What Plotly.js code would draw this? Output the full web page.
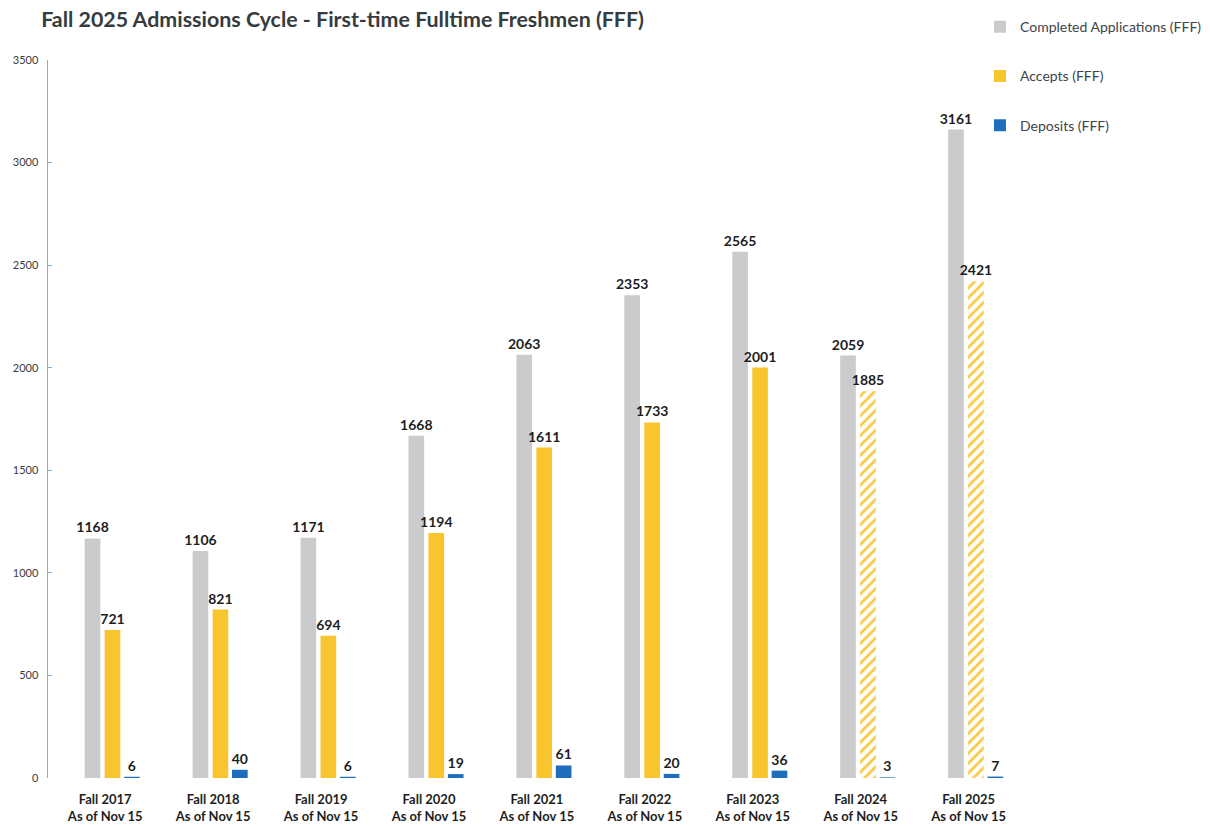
<!DOCTYPE html>
<html>
<head>
<meta charset="utf-8">
<script src="https://cdn.plot.ly/plotly-3.0.1.min.js"></script>
<style>html,body{margin:0;padding:0;background:#fff;}#chart{width:1210px;height:826px;}</style>
</head>
<body>
<div id="chart"></div>
<script>
const categories = ["Fall 2017<br>As of Nov 15","Fall 2018<br>As of Nov 15","Fall 2019<br>As of Nov 15","Fall 2020<br>As of Nov 15","Fall 2021<br>As of Nov 15","Fall 2022<br>As of Nov 15","Fall 2023<br>As of Nov 15","Fall 2024<br>As of Nov 15","Fall 2025<br>As of Nov 15"];
const completedApplications = [1168, 1106, 1171, 1668, 2063, 2353, 2565, 2059, 3161];
const accepts = [721, 821, 694, 1194, 1611, 1733, 2001, 1885, 2421];
const deposits = [6, 40, 6, 19, 61, 20, 36, 3, 7];
const acceptsHatch = ["", "", "", "", "", "", "", "/", "/"];
const yTicks = [0, 500, 1000, 1500, 2000, 2500, 3000, 3500];

const FONT = "Lato, 'Open Sans', sans-serif";
const labelFont = {family: FONT, size: 14, color: "#1e1e1e", weight: "bold"};
const BW = 0.145;
function barTrace(name, vals, color, group, off, extra) {
  return Object.assign({
    type: "bar", name: name, x: categories, y: vals,
    marker: {color: color}, width: BW, offset: off,
    text: vals.map(String), textposition: "outside", cliponaxis: false,
    constraintext: "none", textfont: labelFont,
    legendgroup: group, hoverinfo: "x+y+name"
  }, extra || {});
}
const traces = [
  barTrace("Completed Applications (FFF)", completedApplications, "#cbcbce", "a", -0.19),
  barTrace("Accepts (FFF)", accepts, "#f9c52f", "b", -0.005, {
    marker: {color: "#f9c52f", pattern: {shape: acceptsHatch, fgcolor: "#f9c840", bgcolor: "#ffffff", size: 7, solidity: 0.38, fillmode: "replace"}}
  }),
  barTrace("Deposits (FFF)", deposits, "#1f6dbd", "c", 0.175)
];
const layout = {
  width: 1210, height: 826,
  paper_bgcolor: "#ffffff", plot_bgcolor: "#ffffff",
  margin: {l: 48, r: 182, t: 60, b: 48, autoexpand: false},
  font: {family: FONT, color: "#333"},
  title: {text: "<b>Fall 2025 Admissions Cycle - First-time Fulltime Freshmen (FFF)</b>",
          font: {family: FONT, size: 21.4, color: "#363b40"},
          x: 0.034, xref: "container", xanchor: "left", y: 0.985, yref: "container", yanchor: "top"},
  barmode: "group",
  xaxis: {type: "category", range: [-0.53, 8.55], showline: false, showgrid: false, zeroline: false,
          ticks: "", ticklabelstandoff: 12,
          tickfont: {family: FONT, size: 13, color: "#1e1e1e", weight: "bold"}},
  yaxis: {range: [0, 3500], tickvals: yTicks, showgrid: false, zeroline: false,
          showline: true, linecolor: "#7fb2d8", linewidth: 1.5,
          ticks: "inside", ticklen: 4, tickcolor: "#7fb2d8",
          tickfont: {family: FONT, size: 11, color: "#3a3a3a"}, ticklabelstandoff: 6},
  showlegend: true,
  legend: {x: 0.951, xanchor: "left", y: 1.068, yanchor: "top", traceorder: "grouped", tracegroupgap: 28,
           font: {family: FONT, size: 14, color: "#3e444a"}, bgcolor: "rgba(0,0,0,0)", itemwidth: 30}
};
Plotly.newPlot("chart", traces, layout, {displayModeBar: false, staticPlot: true});
</script>
</body>
</html>
